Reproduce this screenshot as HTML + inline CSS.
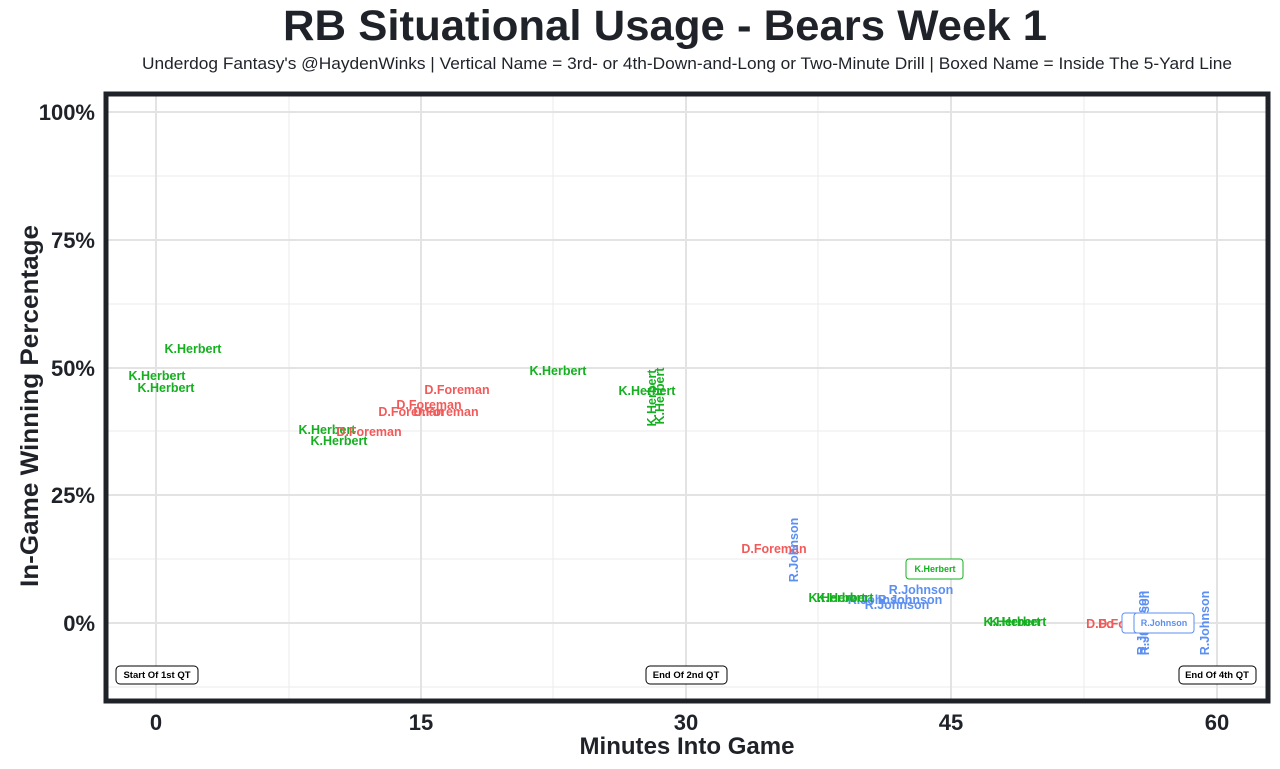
<!DOCTYPE html>
<html><head><meta charset="utf-8"><style>
html,body{margin:0;padding:0;background:#fff;}
svg{display:block;font-family:"Liberation Sans",Arial,sans-serif;}
.g{font-size:12.5px;font-weight:bold;fill:#14b01f;}
.r{font-size:12.5px;font-weight:bold;fill:#f25a5a;}
.b{font-size:12.5px;font-weight:bold;fill:#5b8ff2;}
.tk{font-size:22px;font-weight:bold;fill:#1f2329;}
.an{font-size:9.5px;font-weight:bold;fill:#000;}
</style></head><body>
<svg width="1280" height="769" viewBox="0 0 1280 769">
<text x="665" y="40" text-anchor="middle" font-size="43" font-weight="bold" fill="#1f2329" textLength="764" lengthAdjust="spacingAndGlyphs">RB Situational Usage - Bears Week 1</text>
<text x="687" y="69" text-anchor="middle" font-size="17" fill="#1f2329" textLength="1090" lengthAdjust="spacingAndGlyphs">Underdog Fantasy's @HaydenWinks | Vertical Name = 3rd- or 4th-Down-and-Long or Two-Minute Drill | Boxed Name = Inside The 5-Yard Line</text>
<g stroke="#ebebeb" stroke-width="1">
<line x1="107" x2="1267" y1="687" y2="687"/><line x1="107" x2="1267" y1="559" y2="559"/><line x1="107" x2="1267" y1="431" y2="431"/><line x1="107" x2="1267" y1="304" y2="304"/><line x1="107" x2="1267" y1="176" y2="176"/>
<line x1="289" x2="289" y1="95" y2="700"/><line x1="553" x2="553" y1="95" y2="700"/><line x1="818" x2="818" y1="95" y2="700"/><line x1="1084" x2="1084" y1="95" y2="700"/>
</g>
<g stroke="#e3e3e3" stroke-width="2">
<line x1="107" x2="1267" y1="623" y2="623"/><line x1="107" x2="1267" y1="495" y2="495"/><line x1="107" x2="1267" y1="368" y2="368"/><line x1="107" x2="1267" y1="240" y2="240"/><line x1="107" x2="1267" y1="112" y2="112"/>
<line x1="156" x2="156" y1="95" y2="700"/><line x1="421" x2="421" y1="95" y2="700"/><line x1="686" x2="686" y1="95" y2="700"/><line x1="951" x2="951" y1="95" y2="700"/><line x1="1217" x2="1217" y1="95" y2="700"/>
</g>
<rect x="106" y="94" width="1162" height="607" fill="none" stroke="#1f2329" stroke-width="5"/>
<g text-anchor="end">
<text x="95" y="120" class="tk">100%</text><text x="95" y="248" class="tk">75%</text><text x="95" y="376" class="tk">50%</text><text x="95" y="503" class="tk">25%</text><text x="95" y="631" class="tk">0%</text>
</g>
<g text-anchor="middle">
<text x="156" y="730" class="tk">0</text><text x="421" y="730" class="tk">15</text><text x="686" y="730" class="tk">30</text><text x="951" y="730" class="tk">45</text><text x="1217" y="730" class="tk">60</text>
<text x="687" y="754" font-size="24" font-weight="bold" fill="#1f2329" textLength="215" lengthAdjust="spacingAndGlyphs">Minutes Into Game</text>
<text transform="translate(38,406) rotate(-90)" font-size="25" font-weight="bold" fill="#1f2329" textLength="362" lengthAdjust="spacingAndGlyphs">In-Game Winning Percentage</text>
</g>
<g text-anchor="middle">
<text x="193" y="353" class="g">K.Herbert</text>
<text x="157" y="380" class="g">K.Herbert</text>
<text x="166" y="392" class="g">K.Herbert</text>
<text x="558" y="375" class="g">K.Herbert</text>
<text x="647" y="395" class="g">K.Herbert</text>
<text transform="translate(656,398) rotate(-90)" class="g">K.Herbert</text>
<text transform="translate(664,396) rotate(-90)" class="g">K.Herbert</text>
<text x="327" y="434" class="g">K.Herbert</text>
<text x="339" y="445" class="g">K.Herbert</text>
<text x="369" y="436" class="r">D.Foreman</text>
<text x="429" y="409" class="r">D.Foreman</text>
<text x="411" y="416" class="r">D.Foreman</text>
<text x="446" y="416" class="r">D.Foreman</text>
<text x="457" y="394" class="r">D.Foreman</text>
<text x="774" y="553" class="r">D.Foreman</text>
<text transform="translate(798,550) rotate(-90)" class="b">R.Johnson</text>
<rect x="906" y="559" width="57" height="20" rx="3" fill="#fff" stroke="#14b01f" stroke-width="1"/>
<text x="935" y="572" class="g" style="font-size:9px">K.Herbert</text>
<text x="921" y="594" class="b">R.Johnson</text>
<text x="910" y="604" class="b">R.Johnson</text>
<text x="897" y="609" class="b">R.Johnson</text>
<text x="880" y="604" class="b">R.Johnson</text>
<text x="845" y="602" class="g">K.Herbert</text>
<text x="837" y="602" class="g">K.Herbert</text>
<text x="1012" y="626" class="g">K.Herbert</text>
<text x="1018" y="626" class="g">K.Herbert</text>
<text x="1100" y="628" class="r">D.Fo</text>
<text x="1112" y="628" class="r">D.Fo</text>
<rect x="1122" y="613" width="55" height="20" rx="3" fill="#fff" stroke="#5b8ff2"/>
<text transform="translate(1146,623) rotate(-90)" class="b">R.Johnson</text>
<text transform="translate(1149,623) rotate(-90)" class="b">R.Johnson</text>
<rect x="1134" y="613" width="60" height="20" rx="3" fill="#fff" stroke="#5b8ff2"/>
<text x="1164" y="626" class="b" style="font-size:9px">R.Johnson</text>
<text transform="translate(1209,623) rotate(-90)" class="b">R.Johnson</text>
</g>
<g text-anchor="middle">
<rect x="116" y="666" width="82" height="18" rx="4" fill="#fff" stroke="#000"/>
<text x="157" y="678" class="an">Start Of 1st QT</text>
<rect x="646" y="666" width="81" height="18" rx="4" fill="#fff" stroke="#000"/>
<text x="686" y="678" class="an">End Of 2nd QT</text>
<rect x="1179" y="666" width="77" height="18" rx="4" fill="#fff" stroke="#000"/>
<text x="1217" y="678" class="an">End Of 4th QT</text>
</g>
</svg>
</body></html>
